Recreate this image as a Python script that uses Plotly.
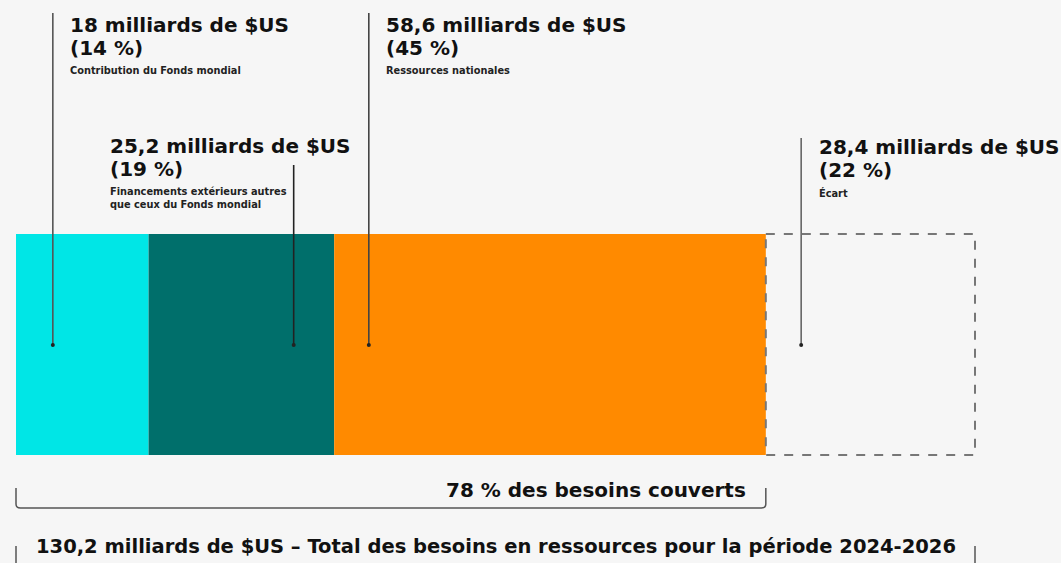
import plotly.graph_objects as go

# ---- data ----
categories = ["Contribution du Fonds mondial",
              "Financements extérieurs autres<br>que ceux du Fonds mondial",
              "Ressources nationales",
              "Écart"]
values = [18.0, 25.2, 58.6, 28.4]          # milliards de $US
percents = [14, 19, 45, 22]
headlines = ["18 milliards de $US", "25,2 milliards de $US",
             "58,6 milliards de $US", "28,4 milliards de $US"]
total_label = "130,2 milliards de $US – Total des besoins en ressources pour la période 2024-2026"
covered_label = "78 % des besoins couverts"
colors = ["#00E6E6", "#006F6B", "#FF8A00", "rgba(0,0,0,0)"]

total = sum(values)
starts = [sum(values[:i]) for i in range(len(values))]

W, H = 1061, 563
left_px, right_px = 16, 975
k = (right_px - left_px) / total
x_range = [-left_px / k, (W - left_px) / k]

bar_top, bar_bot = 234, 455
bar_mid = (bar_top + bar_bot) / 2
FONT = "DejaVu Sans"
BG = "#F6F6F6"

fig = go.Figure()
for i in range(3):
    fig.add_trace(go.Bar(
        orientation="h", y=[bar_mid], x=[values[i]], base=[starts[i]],
        width=bar_bot - bar_top, marker=dict(color=colors[i], line=dict(width=0)),
        showlegend=False, hoverinfo="skip"))

shapes = []
# dashed gap box
shapes.append(dict(type="rect", xref="x", yref="y", x0=starts[3], x1=starts[3] + values[3],
                   y0=bar_top, y1=bar_bot, line=dict(color="#777777", width=2, dash="dash"),
                   fillcolor="rgba(0,0,0,0)"))

# leader lines: (anchor x in data units, top y px)
leader_x = [starts[0] + 5.0, starts[1] + values[1] - 5.5, starts[2] + 4.7, starts[3] + 4.8]
leader_top = [13, 165, 13, 138]
leader_col = ["#555555", "#222222", "#444444", "#666666"]
dot_y = 345
for lx, lt, lc in zip(leader_x, leader_top, leader_col):
    fig.add_trace(go.Scatter(x=[lx, lx], y=[lt, dot_y], mode="lines",
                             line=dict(color=lc, width=1.6), showlegend=False, hoverinfo="skip"))
    fig.add_trace(go.Scatter(x=[lx], y=[dot_y], mode="markers",
                             marker=dict(color="#222222", size=4), showlegend=False, hoverinfo="skip"))

# bracket under covered part
r = 0.6
x0, x1 = 0, starts[3]
shapes.append(dict(type="path", xref="x", yref="y",
                   path=f"M {x0},488 L {x0},504 Q {x0},508 {x0 + r},508 L {x1 - r},508 Q {x1},508 {x1},504 L {x1},488",
                   line=dict(color="#555555", width=1.5)))
# bottom bracket ticks
for xx in [0, total]:
    shapes.append(dict(type="line", xref="x", yref="y", x0=xx, x1=xx, y0=546, y1=563,
                       line=dict(color="#555555", width=1.5)))

annotations = []
label_pos = [
    dict(x=leader_x[0], xshift=15, y0=25),
    dict(x=(108 - left_px) / k, xshift=0, y0=146),
    dict(x=leader_x[2], xshift=15, y0=25),
    dict(x=leader_x[3], xshift=16, y0=147),
]
HEAD = dict(family=FONT, size=20, color="#111111", weight="bold")
for i, lp in enumerate(label_pos):
    y0 = lp["y0"]
    annotations.append(dict(x=lp["x"], y=y0, xref="x", yref="y", xshift=lp["xshift"],
                            text=headlines[i], showarrow=False,
                            xanchor="left", yanchor="middle", font=HEAD))
    annotations.append(dict(x=lp["x"], y=y0 + 23, xref="x", yref="y", xshift=lp["xshift"],
                            text=f"({percents[i]} %)", showarrow=False,
                            xanchor="left", yanchor="middle", font=HEAD))
    annotations.append(dict(x=lp["x"], y=y0 + 38, xref="x", yref="y", xshift=lp["xshift"],
                            text=categories[i], showarrow=False,
                            xanchor="left", yanchor="top", align="left",
                            font=dict(family=FONT, size=9.8, color="#222222", weight="bold")))

annotations.append(dict(x=starts[3], y=490, xref="x", yref="y", xshift=-18,
                        text=covered_label, showarrow=False,
                        xanchor="right", yanchor="middle",
                        font=dict(family=FONT, size=20, color="#111111", weight="bold")))
annotations.append(dict(x=total / 2, y=546, xref="x", yref="y",
                        text=total_label, showarrow=False,
                        xanchor="center", yanchor="middle",
                        font=dict(family=FONT, size=19.5, color="#111111", weight="bold")))

fig.update_layout(
    width=W, height=H, margin=dict(l=0, r=0, t=0, b=0),
    paper_bgcolor=BG, plot_bgcolor=BG, barmode="overlay",
    xaxis=dict(range=x_range, visible=False, fixedrange=True),
    yaxis=dict(range=[H, 0], visible=False, fixedrange=True),
    shapes=shapes, annotations=annotations, showlegend=False,
)
fig.write_html("out.html", config={"displayModeBar": False})

# remove default page margin so the figure fills the window exactly
with open("out.html", "r", encoding="utf-8") as f:
    html = f.read()
html = html.replace("<head>", "<head><style>html,body{margin:0;padding:0;overflow:hidden;background:#F6F6F6;}</style>", 1)
with open("out.html", "w", encoding="utf-8") as f:
    f.write(html)
